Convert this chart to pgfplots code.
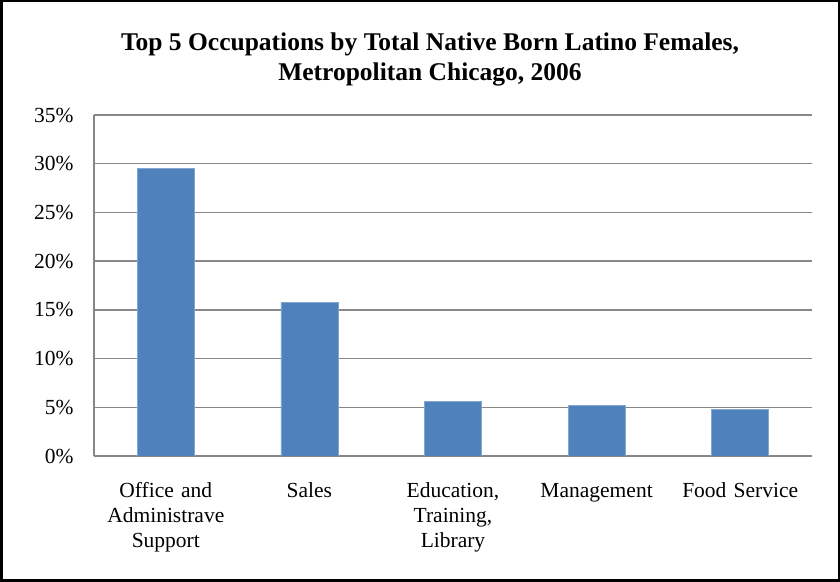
\documentclass[border=0pt]{standalone}
\usepackage{fontspec}
\setmainfont{Liberation Serif}
\usepackage{pgfplots}
\pgfplotsset{compat=1.18}
\definecolor{barblue}{HTML}{4F81BD}
\definecolor{gridgray}{HTML}{878787}

\begin{document}
\begin{tikzpicture}
\useasboundingbox (0,0) rectangle (840bp,582bp);
\draw[line width=2bp,black] (1.5bp,1.5bp) rectangle (838.5bp,580.5bp);
\begin{axis}[
  at={(94bp,126bp)}, anchor=south west,
  scale only axis, width=718bp, height=341bp,
  ybar, bar width=57bp,
  xmin=-0.5, xmax=4.5, ymin=0, ymax=35,
  xtick=data,
  xticklabels={{Office and\\Administrave\\Support},{Sales},{Education,\\Training,\\Library},{Management},{Food Service}},
  ytick={0,5,...,35},
  yticklabel={\pgfmathprintnumber{\tick}\%},
  /pgf/number format/assume math mode=true,
  major tick length=0pt,
  ymajorgrids, grid style={gridgray, line width=1.3bp},
  axis x line*=bottom, axis y line*=left,
  axis line style={gridgray, line width=1.3bp, -},
  ticklabel style={font=\fontsize{21.5bp}{25bp}\selectfont},
  xticklabel style={text width=150bp, align=center, anchor=north, yshift=-23bp, text height=15bp},
  yticklabel style={xshift=-17bp},
  title={Top 5 Occupations by Total Native Born Latino Females,\\Metropolitan Chicago, 2006},
  title style={font=\bfseries\fontsize{25.5bp}{30bp}\selectfont, align=center,
    at={(0.5,1)}, anchor=center, yshift=50bp, xshift=-23bp},
]
\addplot[fill=barblue, draw=barblue!70!white, line width=0.6bp] coordinates {(0,29.5) (1,15.8) (2,5.6) (3,5.2) (4,4.8)};
\end{axis}
\end{tikzpicture}
\end{document}
